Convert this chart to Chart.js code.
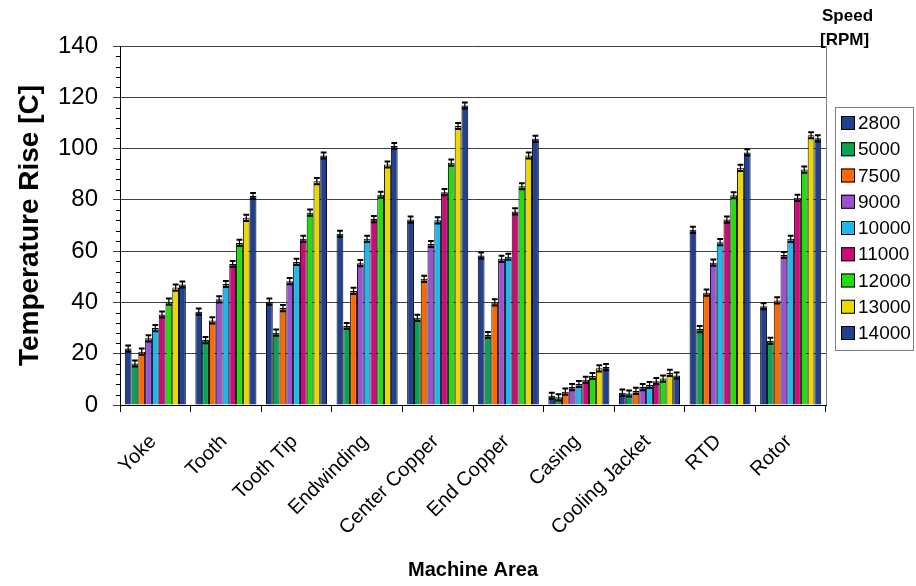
<!DOCTYPE html>
<html>
<head>
<meta charset="utf-8">
<script src="https://cdn.jsdelivr.net/npm/chart.js@4.4.1/dist/chart.umd.min.js"></script>
<style>
  html, body { margin: 0; padding: 0; background: #fff; }
  #wrap { width: 916px; height: 586px; }
</style>
</head>
<body>
<div id="wrap"><canvas id="c" width="916" height="586"></canvas></div>
<script>
// Machine areas along the x axis
const categories = ['Yoke', 'Tooth', 'Tooth Tip', 'Endwinding', 'Center Copper', 'End Copper', 'Casing', 'Cooling Jacket', 'RTD', 'Rotor'];

// Rotor speeds [RPM], one series each
const speeds = ['2800', '5000', '7500', '9000', '10000', '11000', '12000', '13000', '14000'];

// Temperature rise [C] per machine area, one array per speed
const rise2800  = [22.0, 36.4, 40.3, 66.8, 72.3, 58.3, 3.6, 4.8, 68.3, 38.5];
const rise5000  = [16.2, 25.3, 28.2, 30.8, 34.0, 27.3, 3.0, 4.5, 29.6, 25.0];
const rise7500  = [20.8, 33.0, 37.8, 44.5, 49.2, 40.0, 5.2, 5.5, 43.8, 40.8];
const rise9000  = [26.0, 41.2, 48.3, 55.3, 62.8, 57.0, 7.0, 7.0, 55.5, 58.5];
const rise10000 = [30.0, 47.2, 55.8, 64.8, 72.0, 57.8, 8.2, 7.8, 63.5, 64.8];
const rise11000 = [35.3, 55.0, 64.8, 72.5, 83.0, 75.5, 9.8, 9.3, 72.3, 80.8];
const rise12000 = [40.3, 63.2, 75.0, 82.0, 94.5, 85.3, 11.3, 10.3, 81.8, 91.8];
const rise13000 = [45.8, 73.0, 87.3, 93.8, 108.8, 97.3, 14.3, 12.5, 92.5, 105.2];
const rise14000 = [47.0, 81.5, 97.3, 101.0, 116.8, 103.8, 14.8, 11.5, 98.5, 104.0];

// Half-width of the measurement error bars [C]
const errorHalf = 1.2;

// Y axis tick values
const yTicks = [0, 20, 40, 60, 80, 100, 120, 140];

const seriesValues = [rise2800, rise5000, rise7500, rise9000, rise10000, rise11000, rise12000, rise13000, rise14000];
const seriesColors = ['#21408f', '#0aa352', '#ff6a00', '#9b52d2', '#20b6f0', '#cc0a78', '#22dd0a', '#ecd800', '#21408f'];

const FONT = "'Liberation Sans', Arial, sans-serif";

// Error bars, minor y ticks, right frame edge and the legend
const extras = {
  id: 'extras',
  afterDatasetsDraw(chart) {
    const ctx = chart.ctx;
    const y = chart.scales.y;
    ctx.save();
    ctx.strokeStyle = '#000';
    chart.data.datasets.forEach((ds, di) => {
      const meta = chart.getDatasetMeta(di);
      meta.data.forEach((bar, i) => {
        const v = ds.data[i];
        const yTop = y.getPixelForValue(v + errorHalf);
        const yBot = y.getPixelForValue(v - errorHalf);
        const half = Math.max(2, bar.width / 2 - 0.5);
        ctx.lineWidth = 1.2;
        ctx.beginPath();
        ctx.moveTo(bar.x, yTop); ctx.lineTo(bar.x, yBot);
        ctx.stroke();
        ctx.lineWidth = 2;
        ctx.beginPath();
        ctx.moveTo(bar.x - half, yTop); ctx.lineTo(bar.x + half, yTop);
        ctx.moveTo(bar.x - half, yBot); ctx.lineTo(bar.x + half, yBot);
        ctx.stroke();
      });
    });
    ctx.restore();
  },
  afterDraw(chart) {
    const ctx = chart.ctx;
    const area = chart.chartArea;
    const y = chart.scales.y;
    ctx.save();
    // minor ticks every 4 degrees
    ctx.strokeStyle = '#000';
    ctx.lineWidth = 1;
    for (let v = 0; v <= 140; v += 4) {
      if (v % 20 === 0) continue;
      const py = Math.round(y.getPixelForValue(v)) + 0.5;
      ctx.beginPath();
      ctx.moveTo(area.left - 4, py);
      ctx.lineTo(area.left, py);
      ctx.stroke();
    }
    // right edge of plot frame
    ctx.strokeStyle = '#808080';
    ctx.beginPath();
    ctx.moveTo(Math.round(area.right) + 0.5, area.top);
    ctx.lineTo(Math.round(area.right) + 0.5, area.bottom);
    ctx.stroke();

    // legend title
    ctx.fillStyle = '#000';
    ctx.font = 'bold 17px ' + FONT;
    ctx.textAlign = 'left';
    ctx.textBaseline = 'middle';
    ctx.fillText('Speed', 822, 16);
    ctx.fillText('[RPM]', 820, 40);

    // legend box
    const lx = 835.5, ly = 107.5, lw = 78, lh = 243;
    ctx.strokeStyle = '#808080';
    ctx.lineWidth = 1;
    ctx.strokeRect(lx, ly, lw, lh);
    ctx.font = '19px ' + FONT;
    speeds.forEach((s, i) => {
      const cy = 123 + i * 26.25;
      ctx.fillStyle = seriesColors[i];
      ctx.fillRect(841, cy - 7, 14, 14);
      ctx.strokeStyle = '#000';
      ctx.strokeRect(841.5, cy - 6.5, 13, 13);
      ctx.fillStyle = '#000';
      ctx.fillText(s, 858, cy + 1);
    });
    ctx.restore();
  }
};

const datasets = speeds.map((s, i) => ({
  label: s,
  data: seriesValues[i],
  backgroundColor: seriesColors[i],
  borderColor: '#000',
  borderWidth: 1,
  categoryPercentage: 0.865,
  barPercentage: 1.0
}));

new Chart(document.getElementById('c'), {
  type: 'bar',
  data: { labels: categories, datasets },
  options: {
    responsive: false,
    animation: false,
    layout: { padding: { top: 46, right: 90, bottom: 0, left: 0 } },
    plugins: { legend: { display: false }, tooltip: { enabled: false } },
    scales: {
      x: {
        grid: { display: true, offset: true, drawOnChartArea: false, tickLength: 7, color: '#000' },
        border: { color: '#000', width: 1 },
        ticks: { color: '#000', font: { family: FONT, size: 20 }, maxRotation: 45, minRotation: 45, padding: 18, labelOffset: -2 },
        title: { display: true, text: 'Machine Area', color: '#000', font: { family: FONT, size: 20, weight: 'bold' }, padding: { top: 0, bottom: 4 } },
        afterFit(scale) { scale.height = 181; }
      },
      y: {
        min: 0, max: 140,
        afterBuildTicks(scale) { scale.ticks = yTicks.map(v => ({ value: v })); },
        grid: { color: '#404040', lineWidth: 1, tickLength: 7 },
        border: { color: '#000', width: 1 },
        ticks: { color: '#000', font: { family: FONT, size: 24 }, padding: 15 },
        title: { display: true, text: 'Temperature Rise [C]', color: '#000', font: { family: FONT, size: 28, weight: 'bold' }, padding: { top: 13, bottom: 0 } },
        afterFit(scale) { scale.width = 120; }
      }
    }
  },
  plugins: [extras]
});
</script>
</body>
</html>
